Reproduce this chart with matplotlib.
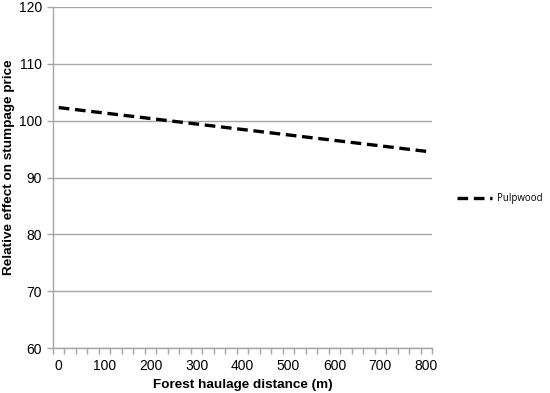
import matplotlib
matplotlib.use("Agg")
import matplotlib.pyplot as plt
import numpy as np

distance = [0, 25, 50, 75, 100, 125, 150, 175, 200, 225, 250, 275, 300, 325, 350, 375,
            400, 425, 450, 475, 500, 525, 550, 575, 600, 625, 650, 675, 700, 725, 750, 775, 800]
pulpwood = [102.3, 102.06, 101.82, 101.58, 101.34, 101.1, 100.86, 100.62, 100.38, 100.13,
            99.89, 99.65, 99.41, 99.17, 98.93, 98.69, 98.45, 98.21, 97.97, 97.73, 97.49,
            97.25, 97.01, 96.77, 96.53, 96.29, 96.05, 95.81, 95.57, 95.33, 95.08, 94.84, 94.6]
x_labels = [0, 100, 200, 300, 400, 500, 600, 700, 800]
y_ticks = [60, 70, 80, 90, 100, 110, 120]

plt.rcParams['font.family'] = ['Liberation Sans', 'DejaVu Sans']
fig = plt.figure(figsize=(5.5, 3.93), dpi=100)
ax = fig.add_axes([53/550, 1-348/393, (432-53)/550, (348-7)/393])

gray = '#a6a6a6'
ax.plot(distance, pulpwood, color='black', lw=2.4, linestyle=(0, (3.2, 1.7)), label='Pulpwood')

ax.set_xlim(-12.5, 812.5)
ax.set_ylim(60, 120)
ax.set_yticks(y_ticks)
ax.yaxis.grid(True, color=gray, lw=1)
ax.set_axisbelow(True)
ax.set_xticks(x_labels)
ax.set_xticks(np.arange(-12.5, 813, 25), minor=True)
ax.tick_params(axis='x', which='major', length=0, labelsize=10, pad=8)
ax.tick_params(axis='x', which='minor', length=4, color=gray, width=1)
ax.tick_params(axis='y', length=4, color=gray, width=1, labelsize=10, pad=4)
for s in ['top', 'right']:
    ax.spines[s].set_visible(False)
for s in ['left', 'bottom']:
    ax.spines[s].set_color(gray)
    ax.spines[s].set_linewidth(1)

ax.set_xlabel('Forest haulage distance (m)', fontsize=9.7, fontweight='bold', labelpad=4)
fig.text(9.5/550, 1-167/393, 'Relative effect on stumpage price', fontsize=9.7,
         fontweight='bold', rotation=90, ha='center', va='center')

fig.legend(loc='center left', bbox_to_anchor=(448/550, 1-199/393), frameon=False,
           prop={'family': 'Open Sans', 'size': 7}, handlelength=3.6, handletextpad=0.5)

fig.savefig('out.png', dpi=100)
